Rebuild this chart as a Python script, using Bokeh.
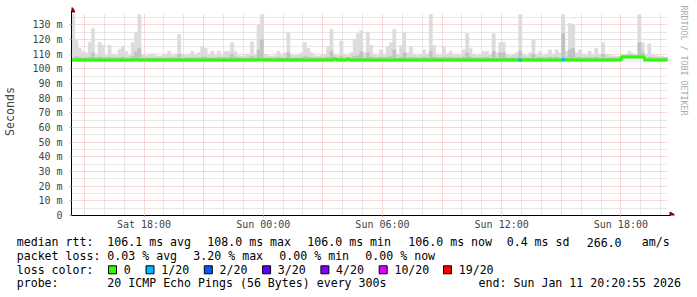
import math
import pandas as pd
from bokeh.plotting import figure
from bokeh.layouts import column
from bokeh.models import Range1d, FixedTicker, Title
from bokeh.core.properties import value
from bokeh.embed import file_html
from bokeh.resources import INLINE

# ---------------- data ----------------
END_TIME = "2026-01-11 20:20:55"
SPAN_HOURS = 30
BIN_MINUTES = 10

# light smoke: highest ping per 10-minute bin (ms)
smoke_top = [
    137, 120, 114, 112, 111, 118, 127.5, 110, 118, 116,
    109, 116, 110, 109, 113, 115, 112, 109, 118, 125,
    137, 110, 109, 109.5, 110.5, 109, 108.5, 109, 110, 112,
    109, 110, 123.5, 110, 109, 110, 112, 110, 111, 115,
    114, 110, 112, 109, 112, 109, 112, 112, 118, 112,
    109, 108.5, 109, 110, 118.5, 110, 130, 137, 110, 109,
    108.5, 109, 112, 110, 111, 125, 110, 109, 110, 111,
    118, 114, 111, 109, 108.5, 109, 110, 115, 127, 110,
    109, 119, 110, 109, 111, 120, 124, 126, 111, 125,
    116, 110, 109, 113, 110, 115, 118, 127, 110, 116,
    125, 111, 115, 110, 109, 110, 113, 110, 137, 116,
    110, 109, 115, 110, 112, 109, 110, 109, 113, 124,
    114, 110, 109, 110, 112, 112, 110, 124, 111, 118,
    118, 110, 109, 110, 111, 137, 110, 109, 111, 120,
    110, 112, 109, 110, 113, 110, 113, 111, 137, 112,
    131, 130, 111, 113, 110, 109, 112, 110, 114, 110,
    118, 110, 109, 109, 108.5, 108.5, 109.5, 110, 112, 110.5,
    110, 137, 118, 110, 117, 110, 109, 108.5, 108.5, 108,
]

# darker smoke: upper inner pings per bin (ms)
smoke_mid = [
    107.6, 108.5, 107.8, 107.6, 107.6, 108, 111, 107.6, 108, 107.8,
    107.6, 107.8, 107.6, 107.6, 107.8, 108, 107.6, 107.6, 108.5, 112,
    114, 107.6, 107.6, 107.6, 107.6, 107.6, 107.6, 107.6, 107.6, 107.8,
    107.6, 107.6, 110, 107.6, 107.6, 107.6, 107.8, 107.6, 107.6, 108,
    108, 107.6, 107.6, 107.6, 107.8, 107.6, 107.8, 107.8, 110, 107.8,
    107.6, 107.6, 107.6, 107.6, 108.5, 107.6, 113, 120, 107.6, 107.6,
    107.6, 107.6, 107.8, 107.6, 107.6, 111, 107.6, 107.6, 107.6, 107.6,
    108.5, 108, 107.6, 107.6, 107.6, 107.6, 107.6, 108, 112, 107.8,
    107.6, 108.5, 107.6, 107.8, 107.6, 108.5, 109, 112, 107.6, 111,
    108, 107.6, 107.6, 108, 107.6, 108, 108.5, 113, 107.6, 108,
    111, 107.6, 108, 107.6, 107.6, 107.6, 108, 107.6, 112, 108,
    107.6, 107.6, 108, 107.6, 107.8, 107.6, 107.6, 107.6, 108, 111,
    108, 107.6, 107.6, 107.6, 107.8, 107.8, 107.6, 112, 107.6, 111,
    111, 107.6, 107.6, 107.6, 107.6, 112, 107.6, 107.6, 107.6, 110,
    107.6, 107.8, 107.6, 107.6, 108, 107.6, 108, 107.6, 124, 108,
    113, 114, 107.6, 108, 107.6, 107.6, 107.8, 107.6, 108, 107.6,
    110, 107.6, 107.6, 107.6, 107.6, 107.6, 109, 109, 109.5, 109,
    109, 118, 111, 107.6, 108, 107.6, 107.6, 107.6, 107.6, 107.6,
]

# lowest ping per bin (ms)
smoke_low = [
    105.7, 105.7, 105.7, 105.7, 105.7, 105.7, 105.7, 105.7, 105.7, 105.7,
    105.7, 105.7, 105.7, 105.7, 105.7, 105.7, 105.7, 105.7, 105.7, 105.7,
    105.7, 105.7, 105.7, 105.7, 105.7, 105.7, 105.7, 105.7, 105.7, 105.7,
    105.7, 105.7, 105.7, 105.7, 105.7, 105.7, 105.7, 105.7, 105.7, 105.7,
    105.7, 105.7, 105.7, 105.7, 105.7, 105.7, 105.7, 105.7, 105.7, 105.7,
    105.7, 105.7, 105.7, 105.7, 105.7, 105.7, 105.7, 105.7, 105.7, 105.7,
    105.7, 105.7, 105.7, 105.7, 105.7, 105.7, 105.7, 105.7, 105.7, 105.7,
    105.7, 105.7, 105.7, 105.7, 105.7, 105.7, 105.7, 105.7, 105.7, 105.7,
    105.7, 105.7, 105.7, 105.7, 105.7, 105.7, 105.7, 105.7, 105.7, 105.7,
    105.7, 105.7, 105.7, 105.7, 105.7, 105.7, 105.7, 105.7, 105.7, 105.7,
    105.7, 105.7, 105.7, 105.7, 105.7, 105.7, 105.7, 105.7, 105.7, 105.7,
    105.7, 105.7, 105.7, 105.7, 105.7, 105.7, 105.7, 105.7, 105.7, 105.7,
    105.7, 105.7, 105.7, 105.7, 105.7, 105.7, 105.7, 105.7, 105.7, 105.7,
    105.7, 105.7, 105.7, 105.7, 105.7, 105.7, 105.7, 105.7, 105.7, 105.7,
    105.7, 105.7, 105.7, 105.7, 105.7, 105.7, 105.7, 105.7, 105.7, 105.7,
    105.7, 105.7, 105.7, 105.7, 105.7, 105.7, 105.7, 105.7, 105.7, 105.7,
    105.7, 105.7, 105.7, 105.7, 105.7, 105.7, 107.6, 107.6, 107.6, 107.6,
    107.6, 107.6, 107.6, 105.7, 105.7, 105.7, 105.7, 105.7, 105.7, 105.7,
]

# median rtt per bin (ms)
median_rtt = [
    106.0, 106.0, 106.0, 106.0, 106.0, 106.0, 106.1, 106.0, 106.0, 106.0,
    106.0, 106.0, 106.0, 106.0, 106.0, 106.0, 106.0, 106.0, 106.0, 106.1,
    106.0, 106.0, 106.0, 106.0, 106.0, 106.0, 106.0, 106.0, 106.0, 106.0,
    106.0, 106.0, 106.0, 106.0, 106.0, 106.0, 106.0, 106.0, 106.0, 106.0,
    106.0, 106.0, 106.0, 106.0, 106.0, 106.0, 106.0, 106.0, 106.0, 106.0,
    106.0, 106.0, 106.0, 106.0, 106.0, 106.0, 106.1, 106.2, 106.0, 106.0,
    106.0, 106.0, 106.0, 106.0, 106.0, 106.0, 106.0, 106.0, 106.0, 106.0,
    106.0, 106.0, 106.0, 106.0, 106.0, 106.0, 106.0, 106.0, 106.0, 106.6,
    106.0, 106.0, 106.0, 106.5, 106.0, 106.0, 106.0, 106.0, 106.0, 106.0,
    106.0, 106.0, 106.0, 106.0, 106.0, 106.0, 106.0, 106.0, 106.0, 106.0,
    106.0, 106.0, 106.0, 106.0, 106.0, 106.0, 106.0, 106.0, 106.0, 106.0,
    106.0, 106.0, 106.0, 106.0, 106.0, 106.0, 106.0, 106.0, 106.0, 106.0,
    106.0, 106.0, 106.0, 106.0, 106.0, 106.0, 106.0, 106.0, 106.0, 106.0,
    106.0, 106.0, 106.0, 106.0, 106.0, 106.0, 106.0, 106.0, 106.0, 106.0,
    106.0, 106.0, 106.0, 106.0, 106.0, 106.0, 106.0, 106.0, 106.1, 106.0,
    106.0, 106.0, 106.0, 106.0, 106.0, 106.0, 106.0, 106.0, 106.0, 106.0,
    106.0, 106.0, 106.0, 106.0, 106.0, 106.0, 108.0, 108.0, 108.0, 108.0,
    108.0, 108.0, 108.0, 106.0, 106.0, 106.0, 106.0, 106.0, 106.0, 106.0,
]

# lost pings (of 20) per bin
lost_pings = [
    0, 0, 0, 0, 0, 0, 0, 0, 0, 0, 0, 0, 0, 0, 0, 0, 0, 0, 0, 0,
    0, 0, 0, 0, 0, 0, 0, 0, 0, 0, 0, 0, 0, 0, 0, 0, 0, 0, 0, 0,
    0, 0, 0, 0, 0, 0, 0, 0, 0, 0, 0, 0, 0, 0, 0, 0, 0, 0, 0, 0,
    0, 0, 0, 0, 0, 0, 0, 0, 0, 0, 0, 0, 0, 0, 0, 0, 0, 0, 0, 0,
    0, 0, 0, 0, 0, 0, 0, 0, 0, 0, 0, 0, 0, 0, 0, 0, 0, 0, 0, 0,
    0, 0, 0, 0, 0, 0, 0, 0, 0, 0, 0, 0, 0, 0, 0, 0, 0, 0, 0, 0,
    0, 0, 0, 0, 0, 0, 0, 0, 0, 0, 0, 0, 0, 0, 0, 1, 0, 0, 0, 0,
    0, 0, 0, 0, 0, 0, 0, 0, 1, 0, 0, 0, 0, 0, 0, 0, 0, 0, 0, 0,
    0, 0, 0, 0, 0, 0, 0, 0, 0, 0, 0, 0, 0, 0, 0, 0, 0, 0, 0, 0,
]

y_ticks = [0, 10, 20, 30, 40, 50, 60, 70, 80, 90, 100, 110, 120, 130]
y_tick_labels = ["0", "10 m", "20 m", "30 m", "40 m", "50 m", "60 m", "70 m",
                 "80 m", "90 m", "100 m", "110 m", "120 m", "130 m"]
x_tick_times = ["2026-01-10 18:00", "2026-01-11 00:00", "2026-01-11 06:00",
                "2026-01-11 12:00", "2026-01-11 18:00"]
x_tick_labels = ["Sat 18:00", "Sun 00:00", "Sun 06:00", "Sun 12:00", "Sun 18:00"]

loss_levels = ["0", "1/20", "2/20", "3/20", "4/20", "10/20", "19/20"]
loss_colors = ["#26ff00", "#00b8ff", "#0059ff", "#5e00ff", "#7e00ff", "#dd00ff", "#ff0000"]
loss_thresholds = [0, 1, 2, 3, 4, 10, 19]

row_rtt = ["median rtt:", "106.1 ms avg", "108.0 ms max", "106.0 ms min",
           "106.0 ms now", "0.4 ms sd", "266.0", "am/s"]
row_loss = ["packet loss:", "0.03 % avg", "3.20 % max", "0.00 % min", "0.00 % now"]
row_probe = ["probe:", "20 ICMP Echo Pings (56 Bytes) every 300s", "end: Sun Jan 11 20:20:55 2026"]
loss_title = "loss color:"
watermark = "RRDTOOL / TOBI OETIKER"

# ---------------- styles ----------------
FONT = "DejaVu Sans Mono"
Y_TOP = 137.7            # top of the graph area
PX_MS = 180000           # 1 px = 3 minutes on the time axis
PX_Y = Y_TOP / 202.0     # value per vertical pixel
LIGHT_SMOKE = "#dcdcdc"
MID_SMOKE = "#c2c2c2"
MAJOR_GRID = "#eeb2b2"
MINOR_GRID = "#d0d0d0"
ARROW_COLOR = "#800000"

def ms(ts):
    return int(pd.Timestamp(ts).value // 10**6)

t_end = pd.Timestamp(END_TIME)
t_start = t_end - pd.Timedelta(hours=SPAN_HOURS)
t0, t1 = ms(t_start), ms(t_end)
bin_ms = BIN_MINUTES * 60 * 1000
nbin = len(smoke_top)
left = [t0 + i * bin_ms for i in range(nbin)]
right = [l + bin_ms for l in left]

# frame reaches 7 px right of the data end and 6 px above the top, for the arrows
x_hi = t1 + 7 * PX_MS
y_hi = Y_TOP + 6 * PX_Y

p = figure(width=697, height=232, x_axis_type="datetime",
           x_range=Range1d(t0, x_hi), y_range=Range1d(0, y_hi),
           output_backend="svg", toolbar_location=None,
           min_border_left=67, min_border_right=23, min_border_top=7, min_border_bottom=17,
           background_fill_color="white", border_fill_color="white")
p.outline_line_color = None
if "frame_align" in p.properties():
    p.frame_align = False

# smoke
p.quad(left=left, right=right, bottom=smoke_low, top=smoke_top,
       fill_color=LIGHT_SMOKE, line_color=LIGHT_SMOKE, line_width=0.4)
p.quad(left=left, right=right, bottom=smoke_low, top=smoke_mid,
       fill_color=MID_SMOKE, line_color=MID_SMOKE, line_width=0.4)

# median line
edges = left + [t1]
p.step(x=edges, y=median_rtt + [median_rtt[-1]], mode="after",
       line_color=loss_colors[0], line_width=3)

def loss_color(n):
    c = loss_colors[0]
    for th, col in zip(loss_thresholds, loss_colors):
        if n >= th:
            c = col
    return c

lx0, lx1, ly, lc = [], [], [], []
for i, n in enumerate(lost_pings):
    if n > 0:
        lx0.append(left[i]); lx1.append(right[i]); ly.append(median_rtt[i]); lc.append(loss_color(n))
if lx0:
    p.segment(x0=lx0, x1=lx1, y0=ly, y1=ly, line_color=lc, line_width=3)

# axes
ya = p.yaxis[0]
ya.ticker = FixedTicker(ticks=y_ticks, minor_ticks=[t + 5 for t in y_ticks])
ya.major_label_overrides = {t: l for t, l in zip(y_ticks, y_tick_labels)}
ya.bounds = (0, Y_TOP + 3 * PX_Y)
ya.axis_label = "Seconds"
ya.axis_label_text_font = FONT
ya.axis_label_text_font_size = "11.6px"
ya.axis_label_text_font_style = "normal"
ya.axis_label_standoff = 12
ya.major_label_text_font = FONT
ya.major_label_text_font_size = "10px"
ya.major_label_standoff = 5
ya.major_tick_out = 2
ya.major_tick_in = 0
ya.major_tick_line_color = "#aaaaaa"
ya.minor_tick_line_color = None
ya.axis_line_color = "black"

xtick_ms = [ms(t) for t in x_tick_times]
xa = p.xaxis[0]
xa.ticker = FixedTicker(ticks=xtick_ms, minor_ticks=[])
xa.major_label_overrides = {t: l for t, l in zip(xtick_ms, x_tick_labels)}
xa.bounds = (t0, t1 + 3 * PX_MS)
xa.major_label_text_font = FONT
xa.major_label_text_font_size = "10px"
xa.major_label_standoff = 1
xa.major_tick_out = 2
xa.major_tick_in = 0
xa.major_tick_line_color = MAJOR_GRID
xa.minor_tick_line_color = None
xa.axis_line_color = "black"

# grids
hours = pd.date_range(t_start.ceil("h"), t_end, freq="h")
major_grid = [ms(h) for h in hours if h.hour % 3 == 0]
minor_grid = [ms(h) for h in hours if h.hour % 3 != 0]
p.xgrid.ticker = FixedTicker(ticks=major_grid, minor_ticks=minor_grid)
p.ygrid.ticker = FixedTicker(ticks=y_ticks, minor_ticks=[t + 5 for t in y_ticks])
for g in (p.xgrid[0], p.ygrid[0]):
    g.grid_line_color = MAJOR_GRID
    g.grid_line_dash = "1 1"
    g.minor_grid_line_color = MINOR_GRID
    g.minor_grid_line_dash = "1 1"
if "cross_bounds" in p.xgrid[0].properties():
    p.xgrid[0].cross_bounds = (0, Y_TOP)
    p.ygrid[0].cross_bounds = (t0, t1)

# arrow heads at the axis ends
p.scatter(x=[t1 + 4.5 * PX_MS], y=[0], marker="triangle", angle=-math.pi / 2, size=7,
          fill_color=ARROW_COLOR, line_color=ARROW_COLOR)
p.scatter(x=[t0], y=[Y_TOP + 3.5 * PX_Y], marker="triangle", size=7,
          fill_color=ARROW_COLOR, line_color=ARROW_COLOR)

# vertical watermark on the right
p.add_layout(Title(text=watermark, align="left", text_font=FONT, text_font_size="8.3px",
                   text_font_style="normal", text_color="#aaaaaa", standoff=9, offset=-2),
             "right")

# ---------------- legend block ----------------
lg = figure(width=697, height=65, x_range=Range1d(0, 697), y_range=Range1d(65, 0),
            output_backend="svg", toolbar_location=None,
            x_axis_location=None, y_axis_location=None, min_border=0,
            background_fill_color="white", border_fill_color="white")
lg.outline_line_color = None
lg.grid.visible = False
if "frame_align" in lg.properties():
    lg.frame_align = False

ROW_Y = [9.7, 23.3, 37.0, 50.7]
tx, ty, tt = [], [], []
for s, x in zip(row_rtt, [16.2, 106.8, 206.8, 306.8, 407.8, 506.2, 586.2, 641.2]):
    tx.append(x); ty.append(ROW_Y[0]); tt.append(s)
for s, x in zip(row_loss, [16.2, 106.8, 192.8, 278.8, 364.8]):
    tx.append(x); ty.append(ROW_Y[1]); tt.append(s)
tx.append(16.2); ty.append(ROW_Y[2]); tt.append(loss_title)
box_x = [112.0, 149.5, 207.8, 266.1, 324.4, 382.7, 447.0]
for s, x in zip(loss_levels, box_x):
    tx.append(x + 11.2); ty.append(ROW_Y[2]); tt.append(s)
for s, x in zip(row_probe[:2], [16.2, 106.8]):
    tx.append(x); ty.append(ROW_Y[3]); tt.append(s)

lg.text(x=tx, y=ty, text=tt, text_font=value(FONT), text_font_size=value("11.6px"),
        text_baseline="middle", text_align="left", text_color="black")
lg.text(x=[680.5], y=[ROW_Y[3]], text=[row_probe[2]], text_font=value(FONT),
        text_font_size=value("11.6px"), text_baseline="middle", text_align="right",
        text_color="black")
lg.rect(x=box_x, y=[ROW_Y[2] + 0.3] * len(box_x), width=8, height=8,
        fill_color=loss_colors, line_color="black", line_width=1)

layout = column(p, lg, spacing=0)
open("out.html", "w").write(file_html(layout, INLINE))
